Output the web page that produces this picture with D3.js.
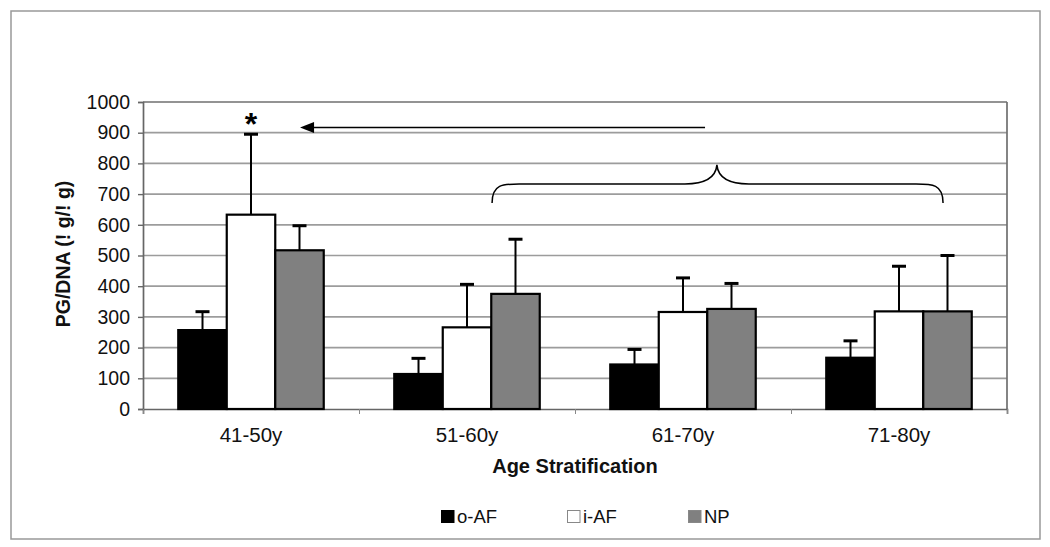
<!DOCTYPE html>
<html>
<head>
<meta charset="utf-8">
<script src="https://cdn.jsdelivr.net/npm/d3@7"></script>
<style>
  html, body { margin: 0; padding: 0; background: #fff; }
  svg { display: block; font-family: "Liberation Sans", Arial, sans-serif; }
</style>
</head>
<body>
<svg id="chart" width="1050" height="547"></svg>
<script>
// ---- data ----
const categories = ["41-50y", "51-60y", "61-70y", "71-80y"];
const seriesNames = ["o-AF", "i-AF", "NP"];
const oAF = [257, 114, 145, 167];
const iAF = [633, 266, 316, 318];
const NP  = [517, 375, 326, 318];
const oAFErr = [317, 165, 194, 222];   // top of error bar
const iAFErr = [895, 406, 427, 465];
const NPErr  = [597, 553, 409, 500];
const yTicks = [0, 100, 200, 300, 400, 500, 600, 700, 800, 900, 1000];
const yTitle = "PG/DNA (! g/! g)";
const xTitle = "Age Stratification";

const seriesValues = [oAF, iAF, NP];
const seriesErr = [oAFErr, iAFErr, NPErr];
const seriesFill = ["#000000", "#ffffff", "#808080"];

const svg = d3.select("#chart");

// outer frame
svg.append("rect").attr("x", 11).attr("y", 11).attr("width", 1029).attr("height", 528)
  .attr("fill", "none").attr("stroke", "#999").attr("stroke-width", 1.5);

const plot = { left: 143, right: 1007, top: 102, bottom: 409 };

const y = d3.scaleLinear().domain([0, 1000]).range([plot.bottom, plot.top]);
const x0 = d3.scaleBand().domain(categories).range([plot.left, plot.right]).padding(0);
const x1 = d3.scaleBand().domain(seriesNames).range([0, x0.bandwidth()])
  .paddingInner(0).paddingOuter(0.727);
const xi = d3.scaleLinear().domain([0, categories.length]).range([plot.left, plot.right]);

// gridlines
svg.append("g").selectAll("line").data(yTicks.filter(d => d > 0)).join("line")
  .attr("x1", plot.left).attr("x2", plot.right)
  .attr("y1", d => y(d)).attr("y2", d => y(d))
  .attr("stroke", d => d === 1000 ? "#6f6f6f" : "#9c9c9c").attr("stroke-width", 1.7);

// right border of plot area
svg.append("line").attr("x1", plot.right).attr("x2", plot.right)
  .attr("y1", plot.top).attr("y2", plot.bottom).attr("stroke", "#6f6f6f").attr("stroke-width", 1.7);

// y axis
const yAxis = svg.append("g").attr("transform", `translate(${plot.left},0)`)
  .call(d3.axisLeft(y).tickValues(yTicks).tickSize(5).tickPadding(8).tickFormat(d3.format("d")));
yAxis.select(".domain").attr("stroke", "#666").attr("stroke-width", 1.7);
yAxis.selectAll(".tick line").attr("stroke", "#666").attr("stroke-width", 1.4);
yAxis.selectAll("text").attr("font-size", 19.5).attr("fill", "#111")
  .attr("font-family", "'Liberation Sans', Arial, sans-serif");

// x axis
const xAxis = svg.append("g").attr("transform", `translate(0,${plot.bottom})`)
  .call(d3.axisBottom(xi).tickValues(d3.range(categories.length + 1)).tickSize(5).tickFormat(""));
xAxis.select(".domain").attr("stroke", "#666").attr("stroke-width", 1.7);
xAxis.selectAll(".tick line").attr("stroke", "#888").attr("stroke-width", 1);

// category labels
svg.append("g").selectAll("text").data(categories).join("text")
  .attr("x", d => x0(d) + x0.bandwidth() / 2).attr("y", 442)
  .attr("text-anchor", "middle").attr("font-size", 20.5).attr("fill", "#111")
  .text(d => d);

// bars
const barData = [];
seriesNames.forEach((s, si) => {
  categories.forEach((c, ci) => {
    barData.push({ s, si, c, v: seriesValues[si][ci], e: seriesErr[si][ci] });
  });
});

// error bars
const eb = svg.append("g");
eb.selectAll("line.v").data(barData).join("line").attr("class", "v")
  .attr("x1", d => x0(d.c) + x1(d.s) + x1.bandwidth() / 2)
  .attr("x2", d => x0(d.c) + x1(d.s) + x1.bandwidth() / 2)
  .attr("y1", d => y(d.v)).attr("y2", d => y(d.e))
  .attr("stroke", "#000").attr("stroke-width", 2);
eb.selectAll("line.c").data(barData).join("line").attr("class", "c")
  .attr("x1", d => x0(d.c) + x1(d.s) + x1.bandwidth() / 2 - 7)
  .attr("x2", d => x0(d.c) + x1(d.s) + x1.bandwidth() / 2 + 7)
  .attr("y1", d => y(d.e)).attr("y2", d => y(d.e))
  .attr("stroke", "#000").attr("stroke-width", 3);

svg.append("g").selectAll("rect").data(barData).join("rect")
  .attr("x", d => x0(d.c) + x1(d.s))
  .attr("y", d => y(d.v))
  .attr("width", x1.bandwidth())
  .attr("height", d => y(0) - y(d.v))
  .attr("fill", d => seriesFill[d.si])
  .attr("stroke", "#000").attr("stroke-width", 2.2);

// axis titles
svg.append("text").attr("x", xi(2)).attr("y", 473).attr("text-anchor", "middle")
  .attr("font-size", 20).attr("font-weight", "bold").attr("fill", "#111").text(xTitle);
svg.append("text").attr("transform", "translate(70,254) rotate(-90)")
  .attr("text-anchor", "middle").attr("font-size", 19.5).attr("font-weight", "bold")
  .attr("fill", "#111").text(yTitle);

// significance star
svg.append("text").attr("x", x0(categories[0]) + x1(seriesNames[1]) + x1.bandwidth() / 2)
  .attr("y", 135).attr("text-anchor", "middle").attr("font-size", 32).attr("font-weight", "bold")
  .attr("fill", "#000").text("*");

// arrow (positions in category-index space and data space)
const arrowFrom = 2.602, arrowTo = 0.727, arrowVal = 917;
svg.append("line").attr("x1", xi(arrowFrom)).attr("x2", xi(arrowTo) + 10)
  .attr("y1", y(arrowVal)).attr("y2", y(arrowVal)).attr("stroke", "#000").attr("stroke-width", 1.6);
svg.append("path")
  .attr("d", `M${xi(arrowTo)},${y(arrowVal)} L${xi(arrowTo) + 14},${y(arrowVal) - 5.5} L${xi(arrowTo) + 14},${y(arrowVal) + 5.5} Z`)
  .attr("fill", "#000");

// brace
const bL = xi(1.616), bR = xi(3.704), bM = xi(2.657);
const bEnd = y(671), bMid = y(733), bTop = y(795);
svg.append("path")
  .attr("d", `M${bL},${bEnd} C${bL},${bMid - 1} ${bL + 12},${bMid} ${bL + 30},${bMid}
              L${bM - 32},${bMid} C${bM - 10},${bMid} ${bM - 1},${bMid - 8} ${bM},${bTop}
              C${bM + 1},${bMid - 8} ${bM + 10},${bMid} ${bM + 32},${bMid}
              L${bR - 30},${bMid} C${bR - 12},${bMid} ${bR},${bMid - 1} ${bR},${bEnd}`)
  .attr("fill", "none").attr("stroke", "#000").attr("stroke-width", 1.5);

// legend
const legendX = [441, 567, 688];
const lg = svg.append("g").selectAll("g").data(seriesNames).join("g")
  .attr("transform", (d, i) => `translate(${legendX[i]},510)`);
lg.append("rect").attr("x", 0.5).attr("y", 0.5).attr("width", 12.5).attr("height", 12)
  .attr("fill", (d, i) => seriesFill[i])
  .attr("stroke", (d, i) => i === 0 ? "#000" : "#888").attr("stroke-width", 1);
lg.append("text").attr("x", 16).attr("y", 12.5).attr("font-size", 18.5).attr("fill", "#111").text(d => d);
</script>
</body>
</html>
